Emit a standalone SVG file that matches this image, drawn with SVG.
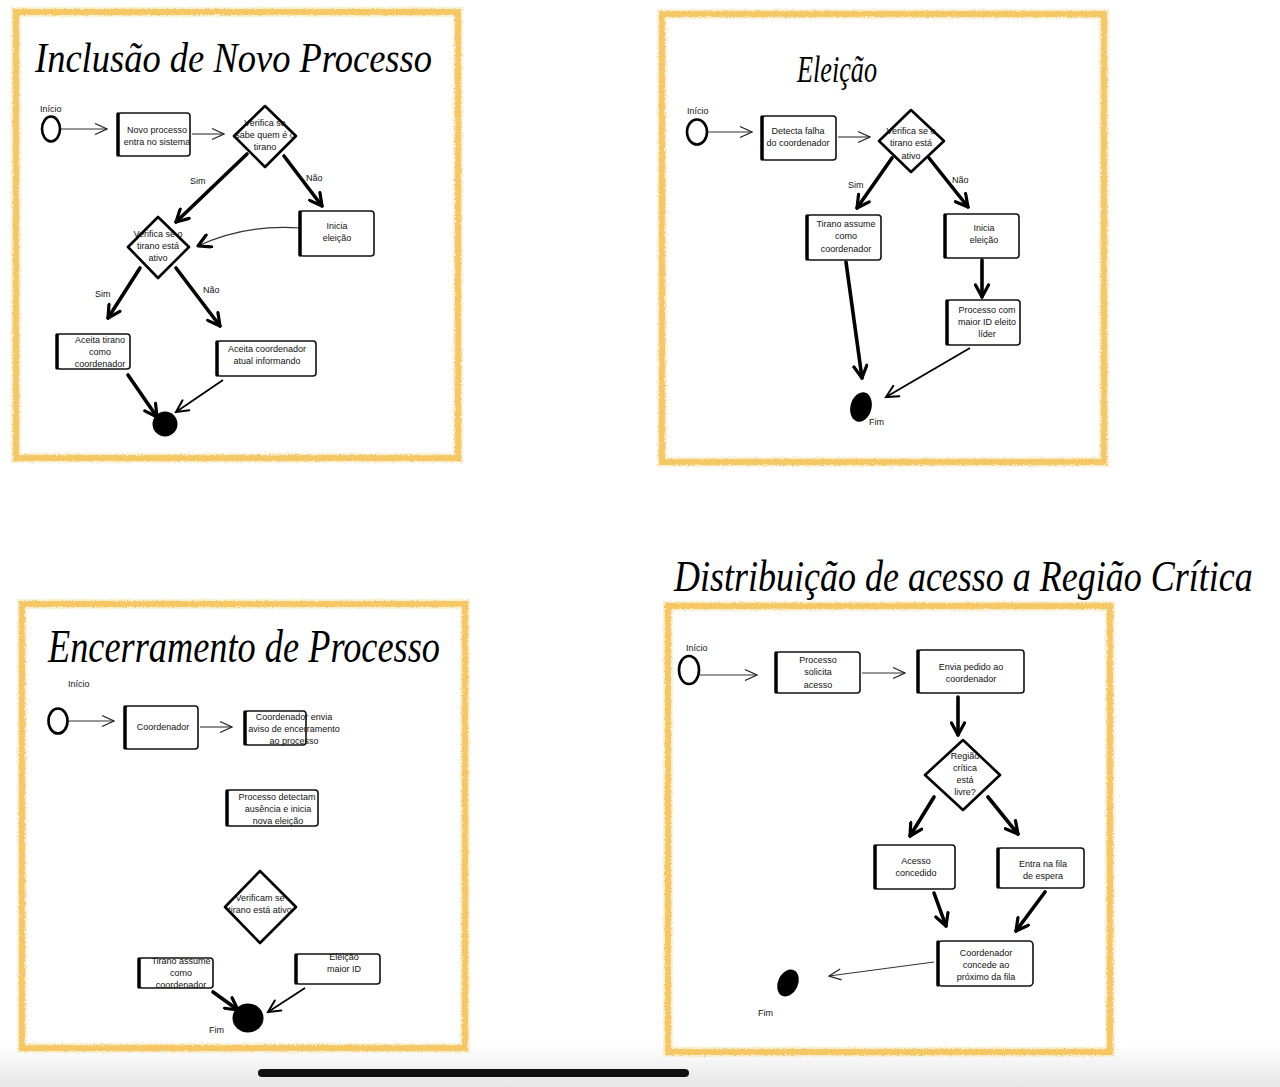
<svg xmlns="http://www.w3.org/2000/svg" width="1280" height="1087" viewBox="0 0 1280 1087">
<style>
.frame{fill:none;stroke:#F5C152;stroke-width:6;opacity:.85;filter:url(#crayon)}
.frame2{fill:none;stroke:#F9D88A;stroke-width:10;opacity:.4;filter:url(#crayon)}
.box{fill:#fff;stroke:#111;stroke-width:1.6}
.edge{stroke:#000;stroke-width:3.5;stroke-linecap:round}
.dia{fill:#fff;stroke:#000;stroke-width:2.6;stroke-linejoin:round}
.start{fill:#fff;stroke:#000;stroke-width:2.6}
.end{fill:#000}
.t{font-family:"Liberation Sans",Arial,sans-serif;font-size:9px;fill:#111;text-anchor:middle}
.lbl{font-family:"Liberation Sans",Arial,sans-serif;font-size:9px;fill:#111}
.title{font-family:"Liberation Serif","DejaVu Serif",serif;font-style:italic;fill:#000}
.thin{fill:none;stroke:#333;stroke-width:1.1;marker-end:url(#hThin)}
.thick{fill:none;stroke:#000;stroke-width:3.6;stroke-linecap:round;marker-end:url(#hThick)}
.mid{fill:none;stroke:#000;stroke-width:1.8;marker-end:url(#hMid)}
</style>
<defs>
<filter id="crayon" x="-5%" y="-5%" width="110%" height="110%">
<feTurbulence type="fractalNoise" baseFrequency="0.9" numOctaves="2" result="n"/>
<feDisplacementMap in="SourceGraphic" in2="n" scale="4"/>
</filter>
<marker id="hThin" viewBox="0 0 14 14" markerWidth="14" markerHeight="14" refX="13" refY="7" orient="auto" markerUnits="userSpaceOnUse">
<path d="M1,1.5 L13,7 L1,12.5" fill="none" stroke="#222" stroke-width="1.3"/>
</marker>
<marker id="hThick" viewBox="0 0 16 16" markerWidth="16" markerHeight="16" refX="14" refY="8" orient="auto" markerUnits="userSpaceOnUse">
<path d="M2,1.5 L14,8 L2,14.5" fill="none" stroke="#000" stroke-width="3.2" stroke-linecap="round" stroke-linejoin="round"/>
</marker>
<marker id="hMid" viewBox="0 0 16 16" markerWidth="16" markerHeight="16" refX="14" refY="8" orient="auto" markerUnits="userSpaceOnUse">
<path d="M2,2 L14,8 L2,14" fill="none" stroke="#000" stroke-width="2" stroke-linecap="round"/>
</marker>
<linearGradient id="bottomFade" x1="0" y1="0" x2="0" y2="1">
<stop offset="0" stop-color="#fff"/>
<stop offset="1" stop-color="#e6e6e6"/>
</linearGradient>
</defs>
<rect x="0" y="0" width="1280" height="1087" fill="#fff"/>
<rect x="0" y="1045" width="1280" height="42" fill="url(#bottomFade)"/>

<g id="frames">
<rect class="frame2" x="16" y="12" width="442" height="446"/>
<rect class="frame" x="16" y="12" width="442" height="446"/>
<rect class="frame2" x="662" y="14" width="442" height="448"/>
<rect class="frame" x="662" y="14" width="442" height="448"/>
<rect class="frame2" x="22" y="604" width="443" height="444"/>
<rect class="frame" x="22" y="604" width="443" height="444"/>
<rect class="frame2" x="668" y="606" width="442" height="446"/>
<rect class="frame" x="668" y="606" width="442" height="446"/>
</g>

<g id="titles">
<text class="title" x="35" y="72" font-size="42" textLength="397" lengthAdjust="spacingAndGlyphs">Inclusão de Novo Processo</text>
<text class="title" x="797" y="82" font-size="38" textLength="80" lengthAdjust="spacingAndGlyphs">Eleição</text>
<text class="title" x="48" y="662" font-size="46" textLength="392" lengthAdjust="spacingAndGlyphs">Encerramento de Processo</text>
<text class="title" transform="translate(674 591) scale(1 1.25)" x="0" y="0" font-size="36">Distribuição de acesso a Região Crítica</text>
</g>

<g id="connectors">
<line class="thin" x1="61" y1="129" x2="107" y2="129"/>
<line class="thin" x1="192" y1="134" x2="224" y2="134"/>
<line class="thick" x1="247" y1="154" x2="176" y2="222"/>
<line class="thick" x1="284" y1="156" x2="322" y2="206"/>
<path d="M300,228 Q245,224 198,246" fill="none" stroke="#333" stroke-width="1.1" marker-end="url(#hThick)"/>
<line class="thick" x1="140" y1="268" x2="108" y2="318"/>
<line class="thick" x1="176" y1="268" x2="220" y2="326"/>
<line class="thick" x1="128" y1="375" x2="157" y2="417"/>
<line class="mid" x1="223" y1="380" x2="176" y2="412"/>

<line class="thin" x1="708" y1="132" x2="752" y2="132"/>
<line class="thin" x1="838" y1="137" x2="870" y2="137"/>
<line class="thick" x1="892" y1="158" x2="857" y2="208"/>
<line class="thick" x1="929" y1="158" x2="968" y2="207"/>
<line class="thick" x1="982" y1="260" x2="982" y2="297"/>
<line class="thick" x1="846" y1="262" x2="862" y2="378"/>
<line class="mid" x1="970" y1="348" x2="886" y2="397"/>

<line class="thin" x1="68" y1="721" x2="114" y2="721"/>
<line class="thin" x1="200" y1="727" x2="232" y2="727"/>
<line class="thick" x1="213" y1="992" x2="238" y2="1010"/>
<line class="mid" x1="305" y1="988" x2="268" y2="1012"/>

<line class="thin" x1="700" y1="675" x2="757" y2="675"/>
<line class="thin" x1="862" y1="673" x2="905" y2="673"/>
<line class="thick" x1="958" y1="697" x2="958" y2="735"/>
<line class="thick" x1="934" y1="797" x2="910" y2="836"/>
<line class="thick" x1="988" y1="797" x2="1018" y2="834"/>
<line class="thick" x1="934" y1="893" x2="946" y2="926"/>
<line class="thick" x1="1045" y1="892" x2="1016" y2="931"/>
<line class="thin" x1="934" y1="962" x2="829" y2="976"/>

<text class="lbl" x="190" y="184">Sim</text>
<text class="lbl" x="306" y="181">Não</text>
<text class="lbl" x="95" y="297">Sim</text>
<text class="lbl" x="203" y="293">Não</text>
<text class="lbl" x="848" y="188">Sim</text>
<text class="lbl" x="952" y="183">Não</text>
</g>

<!-- Panel 1 -->
<g id="p1-start"><text class="lbl" x="40" y="112">Início</text><ellipse class="start" cx="51" cy="129" rx="9" ry="12.5"/></g>
<g id="p1-novo"><rect class="box" x="118" y="113" width="72" height="43" rx="3"/><line class="edge" x1="118" y1="114" x2="118" y2="155"/><text class="t" x="157" y="133">Novo processo</text><text class="t" x="157" y="145">entra no sistema</text></g>
<g id="p1-dia1"><path class="dia" d="M265,106 L296,136 L265,167 L234,136 Z"/><text class="t" x="265" y="126">Verifica se</text><text class="t" x="265" y="138">sabe quem é o</text><text class="t" x="265" y="150">tirano</text></g>
<g id="p1-inicia"><rect class="box" x="300" y="211" width="74" height="45" rx="3"/><line class="edge" x1="300" y1="212" x2="300" y2="255"/><text class="t" x="337" y="229">Inicia</text><text class="t" x="337" y="241">eleição</text></g>
<g id="p1-dia2"><path class="dia" d="M158,217 L189,247 L158,278 L128,247 Z"/><text class="t" x="158" y="237">Verifica se o</text><text class="t" x="158" y="249">tirano está</text><text class="t" x="158" y="261">ativo</text></g>
<g id="p1-aceita1"><rect class="box" x="57" y="334" width="73" height="35" rx="3"/><line class="edge" x1="57" y1="335" x2="57" y2="368"/><text class="t" x="100" y="343">Aceita tirano</text><text class="t" x="100" y="355">como</text><text class="t" x="100" y="367">coordenador</text></g>
<g id="p1-aceita2"><rect class="box" x="217" y="341" width="99" height="35" rx="3"/><line class="edge" x1="217" y1="342" x2="217" y2="375"/><text class="t" x="267" y="352">Aceita coordenador</text><text class="t" x="267" y="364">atual informando</text></g>
<g id="p1-fim"><circle class="end" cx="165" cy="424" r="12.5"/></g>

<!-- Panel 2 -->
<g id="p2-start"><text class="lbl" x="687" y="114">Início</text><ellipse class="start" cx="697" cy="132" rx="10" ry="12.5"/></g>
<g id="p2-detecta"><rect class="box" x="762" y="116" width="74" height="44" rx="3"/><line class="edge" x1="762" y1="117" x2="762" y2="159"/><text class="t" x="798" y="134">Detecta falha</text><text class="t" x="798" y="146">do coordenador</text></g>
<g id="p2-dia"><path class="dia" d="M911,110 L944,141 L911,172 L879,141 Z"/><text class="t" x="911" y="134">Verifica se o</text><text class="t" x="911" y="146">tirano está</text><text class="t" x="911" y="159">ativo</text></g>
<g id="p2-tirano"><rect class="box" x="807" y="215" width="74" height="45" rx="3"/><line class="edge" x1="807" y1="216" x2="807" y2="259"/><text class="t" x="846" y="227">Tirano assume</text><text class="t" x="846" y="239">como</text><text class="t" x="846" y="252">coordenador</text></g>
<g id="p2-inicia"><rect class="box" x="945" y="214" width="74" height="44" rx="3"/><line class="edge" x1="945" y1="215" x2="945" y2="257"/><text class="t" x="984" y="231">Inicia</text><text class="t" x="984" y="243">eleição</text></g>
<g id="p2-processo"><rect class="box" x="947" y="300" width="73" height="45" rx="3"/><line class="edge" x1="947" y1="301" x2="947" y2="344"/><text class="t" x="987" y="313">Processo com</text><text class="t" x="987" y="325">maior ID eleito</text><text class="t" x="987" y="337">líder</text></g>
<g id="p2-fim"><ellipse class="end" cx="861" cy="407" rx="10.5" ry="15" transform="rotate(15 861 407)"/><text class="lbl" x="869" y="425">Fim</text></g>

<!-- Panel 3 -->
<g id="p3-start"><text class="lbl" x="68" y="687">Início</text><ellipse class="start" cx="58" cy="721" rx="9.5" ry="12.5"/></g>
<g id="p3-coord"><rect class="box" x="125" y="706" width="73" height="43" rx="3"/><line class="edge" x1="125" y1="707" x2="125" y2="748"/><text class="t" x="163" y="730">Coordenador</text></g>
<g id="p3-envia"><rect class="box" x="245" y="711" width="61" height="34" rx="3"/><line class="edge" x1="245" y1="712" x2="245" y2="744"/><text class="t" x="294" y="720">Coordenador envia</text><text class="t" x="294" y="732">aviso de encerramento</text><text class="t" x="294" y="744">ao processo</text></g>
<g id="p3-detectam"><rect class="box" x="227" y="790" width="91" height="36" rx="3"/><line class="edge" x1="227" y1="791" x2="227" y2="825"/><text class="t" x="277" y="800">Processo detectam</text><text class="t" x="278" y="812">ausência e inicia</text><text class="t" x="278" y="824">nova eleição</text></g>
<g id="p3-dia"><path class="dia" d="M260,871 L296,907 L260,943 L225,907 Z"/><text class="t" x="260" y="901">Verificam se</text><text class="t" x="260" y="913">tirano está ativo</text></g>
<g id="p3-tirano"><rect class="box" x="139" y="958" width="74" height="30" rx="3"/><line class="edge" x1="139" y1="959" x2="139" y2="987"/><text class="t" x="181" y="964">Tirano assume</text><text class="t" x="181" y="976">como</text><text class="t" x="181" y="988">coordenador</text></g>
<g id="p3-eleicao"><rect class="box" x="296" y="954" width="84" height="30" rx="3"/><line class="edge" x1="296" y1="955" x2="296" y2="983"/><text class="t" x="344" y="960">Eleição</text><text class="t" x="344" y="972">maior ID</text></g>
<g id="p3-fim"><ellipse class="end" cx="248" cy="1018" rx="15.5" ry="14.5"/><text class="lbl" x="209" y="1033">Fim</text></g>

<!-- Panel 4 -->
<g id="p4-start"><text class="lbl" x="686" y="651">Início</text><ellipse class="start" cx="689" cy="670" rx="10" ry="14"/></g>
<g id="p4-solicita"><rect class="box" x="776" y="652" width="84" height="41" rx="3"/><line class="edge" x1="776" y1="653" x2="776" y2="692"/><text class="t" x="818" y="663">Processo</text><text class="t" x="818" y="675">solicita</text><text class="t" x="818" y="688">acesso</text></g>
<g id="p4-envia"><rect class="box" x="918" y="650" width="106" height="43" rx="3"/><line class="edge" x1="918" y1="651" x2="918" y2="692"/><text class="t" x="971" y="670">Envia pedido ao</text><text class="t" x="971" y="682">coordenador</text></g>
<g id="p4-dia"><path class="dia" d="M963,740 L1000,775 L963,810 L925,775 Z"/><text class="t" x="965" y="759">Região</text><text class="t" x="965" y="771">crítica</text><text class="t" x="965" y="783">está</text><text class="t" x="965" y="795">livre?</text></g>
<g id="p4-acesso"><rect class="box" x="875" y="845" width="80" height="44" rx="3"/><line class="edge" x1="875" y1="846" x2="875" y2="888"/><text class="t" x="916" y="864">Acesso</text><text class="t" x="916" y="876">concedido</text></g>
<g id="p4-fila"><rect class="box" x="998" y="848" width="86" height="40" rx="3"/><line class="edge" x1="998" y1="849" x2="998" y2="887"/><text class="t" x="1043" y="867">Entra na fila</text><text class="t" x="1043" y="879">de espera</text></g>
<g id="p4-concede"><rect class="box" x="938" y="941" width="95" height="45" rx="4"/><line class="edge" x1="938" y1="942" x2="938" y2="985"/><text class="t" x="986" y="956">Coordenador</text><text class="t" x="986" y="968">concede ao</text><text class="t" x="986" y="980">próximo da fila</text></g>
<g id="p4-fim"><ellipse class="end" cx="788" cy="983" rx="10" ry="14" transform="rotate(25 788 983)"/><text class="lbl" x="758" y="1016">Fim</text></g>

<rect x="258" y="1069" width="431" height="8" rx="4" fill="#111"/>
</svg>
